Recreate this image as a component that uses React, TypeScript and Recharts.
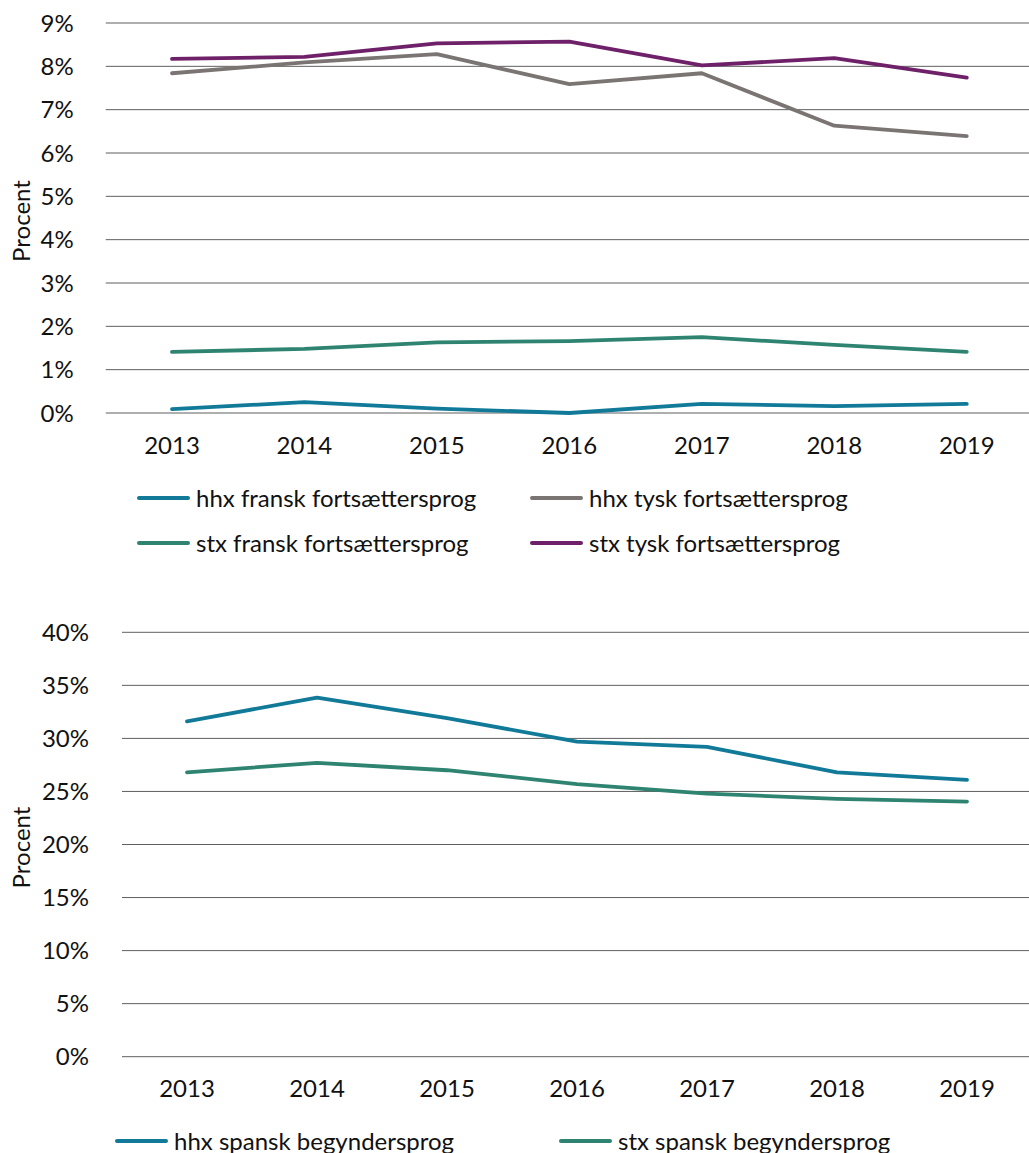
import React from 'react';
import { LineChart, Line, XAxis, YAxis, CartesianGrid, Label } from 'recharts';

const years = ['2013', '2014', '2015', '2016', '2017', '2018', '2019'];

// Top chart (percent)
const hhxFransk = [0.09, 0.25, 0.1, 0.0, 0.21, 0.16, 0.21];
const hhxTysk = [7.84, 8.09, 8.28, 7.59, 7.84, 6.63, 6.39];
const stxFransk = [1.41, 1.48, 1.63, 1.66, 1.75, 1.57, 1.41];
const stxTysk = [8.17, 8.22, 8.53, 8.57, 8.02, 8.19, 7.74];
const topTicks = [0, 1, 2, 3, 4, 5, 6, 7, 8, 9];

// Bottom chart (percent)
const hhxSpansk = [31.6, 33.85, 31.9, 29.7, 29.2, 26.8, 26.1];
const stxSpansk = [26.8, 27.7, 27.0, 25.7, 24.8, 24.3, 24.05];
const bottomTicks = [0, 5, 10, 15, 20, 25, 30, 35, 40];

const BLUE = '#117a98';
const GREY = '#7a7573';
const GREEN = '#2e8470';
const PURPLE = '#6e2169';

const topSeries = [
  { key: 'hhxFransk', name: 'hhx fransk fortsættersprog', color: BLUE, values: hhxFransk },
  { key: 'hhxTysk', name: 'hhx tysk fortsættersprog', color: GREY, values: hhxTysk },
  { key: 'stxFransk', name: 'stx fransk fortsættersprog', color: GREEN, values: stxFransk },
  { key: 'stxTysk', name: 'stx tysk fortsættersprog', color: PURPLE, values: stxTysk },
];

const bottomSeries = [
  { key: 'hhxSpansk', name: 'hhx spansk begyndersprog', color: BLUE, values: hhxSpansk },
  { key: 'stxSpansk', name: 'stx spansk begyndersprog', color: GREEN, values: stxSpansk },
];

const buildRows = (series: { key: string; values: number[] }[]) =>
  years.map((y, i) => {
    const row: Record<string, any> = { year: y };
    series.forEach((s) => (row[s.key] = s.values[i]));
    return row;
  });

const topData = buildRows(topSeries);
const bottomData = buildRows(bottomSeries);

const FONT = 'Lato, "Open Sans", sans-serif';
const FS = 24;
const tickStyle = { fill: '#111', fontSize: FS, fontFamily: FONT };

const yLabel = (x: number) => (props: any) => {
  const vb = props.viewBox || {};
  const cy = vb.y + vb.height / 2 + 3;
  return (
    <text
      x={x}
      y={cy}
      transform={`rotate(-90, ${x}, ${cy})`}
      textAnchor="middle"
      dominantBaseline="central"
      fill="#111"
      fontSize={FS}
      fontFamily={FONT}
    >
      Procent
    </text>
  );
};

const LegendItem = ({ color, name, lineW }: { color: string; name: string; lineW: number }) => (
  <div style={{ display: 'flex', alignItems: 'center', height: 30 }}>
    <div style={{ width: lineW, height: 4, borderRadius: 2, background: color, marginRight: 6, flex: 'none' }} />
    <span style={{ fontFamily: FONT, fontSize: FS, color: '#111', whiteSpace: 'nowrap', lineHeight: '30px' }}>{name}</span>
  </div>
);

export default function App() {
  return (
    <div style={{ position: 'absolute', left: 0, top: 0, width: 1029, height: 1153, overflow: 'hidden', background: '#fff' }}>
      <div style={{ position: 'absolute', left: 0, top: 0 }}>
        <LineChart width={1040} height={460} data={topData} margin={{ top: 23, right: 7, bottom: 0, left: 0 }}>
          <CartesianGrid vertical={false} stroke="#5f5f5f" strokeWidth={1} />
          <XAxis
            dataKey="year"
            axisLine={false}
            tickLine={false}
            tickSize={0}
            tickMargin={24}
            height={47}
            tick={tickStyle}
            interval={0}
            padding={{ left: 66.25, right: 66.25 }}
          />
          <YAxis
            domain={[0, 9]}
            ticks={topTicks}
            width={105.75}
            axisLine={false}
            tickLine={false}
            tickSize={0}
            tickMargin={32}
            tick={tickStyle}
            tickFormatter={(v: number) => `${v}%`}
            interval={0}
          >
            <Label content={yLabel(20)} />
          </YAxis>
          {topSeries.map((s) => (
            <Line
              key={s.key}
              type="linear"
              dataKey={s.key}
              name={s.name}
              stroke={s.color}
              strokeWidth={3.8}
              strokeLinecap="round"
              strokeLinejoin="round"
              dot={false}
              activeDot={false}
              isAnimationActive={false}
            />
          ))}
        </LineChart>
      </div>
      <div style={{ position: 'absolute', left: 137, top: 483, display: 'grid', gridTemplateColumns: '393px 393px', rowGap: 15 }}>
        {topSeries.map((s) => (
          <LegendItem key={s.key} color={s.color} name={s.name} lineW={53} />
        ))}
      </div>

      <div style={{ position: 'absolute', left: 0, top: 600 }}>
        <LineChart width={1040} height={510} data={bottomData} margin={{ top: 32.3, right: 8, bottom: 0, left: 0 }}>
          <CartesianGrid vertical={false} stroke="#5f5f5f" strokeWidth={1} />
          <XAxis
            dataKey="year"
            axisLine={false}
            tickLine={false}
            tickSize={0}
            tickMargin={23}
            height={53.3}
            tick={tickStyle}
            interval={0}
            padding={{ left: 65, right: 65 }}
          />
          <YAxis
            domain={[0, 40]}
            ticks={bottomTicks}
            width={122}
            axisLine={false}
            tickLine={false}
            tickSize={0}
            tickMargin={33}
            tick={tickStyle}
            tickFormatter={(v: number) => `${v}%`}
            interval={0}
          >
            <Label content={yLabel(20)} />
          </YAxis>
          {bottomSeries.map((s) => (
            <Line
              key={s.key}
              type="linear"
              dataKey={s.key}
              name={s.name}
              stroke={s.color}
              strokeWidth={3.8}
              strokeLinecap="round"
              strokeLinejoin="round"
              dot={false}
              activeDot={false}
              isAnimationActive={false}
            />
          ))}
        </LineChart>
      </div>
      <div style={{ position: 'absolute', left: 115, top: 1126, display: 'grid', gridTemplateColumns: '444px 444px' }}>
        {bottomSeries.map((s) => (
          <LegendItem key={s.key} color={s.color} name={s.name} lineW={53} />
        ))}
      </div>
    </div>
  );
}
